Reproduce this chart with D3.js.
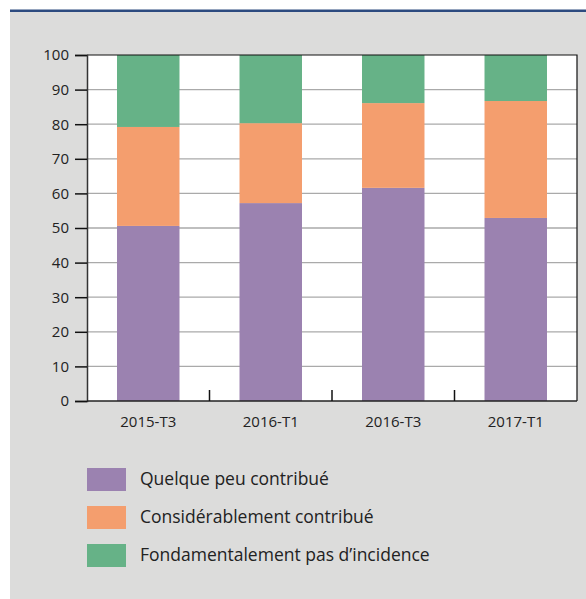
<!DOCTYPE html>
<html>
<head>
<meta charset="utf-8">
<script src="https://cdn.jsdelivr.net/npm/d3@7"></script>
<style>
  html, body { margin: 0; padding: 0; background: #ffffff; }
  svg { display: block; }
  text { font-family: "Open Sans", "Noto Sans", sans-serif; fill: #222; }
</style>
</head>
<body>
<svg id="chart" width="586" height="599"></svg>
<script>
// Survey periods
const periods = ["2015-T3", "2016-T1", "2016-T3", "2017-T1"];
// Share of respondents (%) per answer
const quelquePeu = [50.6, 57.2, 61.6, 52.9];
const considerablement = [28.6, 23.1, 24.5, 33.8];
const pasIncidence = [20.8, 19.7, 13.9, 13.3];
const seriesNames = ["Quelque peu contribué", "Considérablement contribué", "Fondamentalement pas d’incidence"];
const yTicks = [0, 10, 20, 30, 40, 50, 60, 70, 80, 90, 100];

const colors = ["#9b82b0", "#f49e6e", "#66b287"];

const rows = periods.map((p, i) => ({
  period: p,
  s0: quelquePeu[i],
  s1: considerablement[i],
  s2: pasIncidence[i]
}));

const svg = d3.select("#chart");

// Panel background and top rule
svg.append("rect").attr("x", 10).attr("y", 12).attr("width", 576).attr("height", 587).attr("fill", "#dcdcdb");
svg.append("rect").attr("x", 10).attr("y", 9.5).attr("width", 576).attr("height", 2.5).attr("fill", "#2c4a7f");

const plotLeft = 87, plotRight = 577, plotTop = 55, plotBottom = 401;

const x = d3.scaleBand().domain(periods).range([plotLeft, plotRight]).paddingInner(0.49).paddingOuter(0.245);
const xBand = d3.scaleBand().domain(periods).range([plotLeft, plotRight]);
const y = d3.scaleLinear().domain([0, 100]).range([plotBottom, plotTop]);

// Plot area
svg.append("rect").attr("x", plotLeft).attr("y", plotTop)
  .attr("width", plotRight - plotLeft).attr("height", plotBottom - plotTop).attr("fill", "#ffffff");

// Gridlines
svg.append("g").selectAll("line").data(yTicks.filter(t => t > 0 && t < 100)).join("line")
  .attr("x1", plotLeft).attr("x2", plotRight)
  .attr("y1", d => y(d)).attr("y2", d => y(d))
  .attr("stroke", "#aaaaaa").attr("stroke-width", 1.3);

// Stacked bars
const stack = d3.stack().keys(["s0", "s1", "s2"]);
const stacked = stack(rows);
svg.append("g").selectAll("g").data(stacked).join("g")
  .attr("fill", (d, i) => colors[i])
  .selectAll("rect").data(d => d).join("rect")
  .attr("x", d => x(d.data.period))
  .attr("width", x.bandwidth())
  .attr("y", d => y(d[1]))
  .attr("height", d => y(d[0]) - y(d[1]));

// Frame: top and right border
svg.append("path")
  .attr("d", `M${plotLeft},${plotTop}H${plotRight}V${plotBottom}`)
  .attr("fill", "none").attr("stroke", "#111").attr("stroke-width", 1.2);

// Y axis
const yAxis = d3.axisLeft(y).tickValues(yTicks).tickSize(12).tickPadding(6);
const yg = svg.append("g").attr("transform", `translate(${plotLeft},0)`).call(yAxis);
yg.select(".domain").attr("stroke", "#333").attr("stroke-width", 1.5);
yg.selectAll(".tick line").attr("stroke", "#111").attr("stroke-width", 1.5);
yg.selectAll("text").attr("font-size", 15).attr("fill", "#222").style("font-family", "'Open Sans', sans-serif");

// X axis with separators between categories
const xAxis = d3.axisBottom(xBand).tickSize(0).tickPadding(15);
const xg = svg.append("g").attr("transform", `translate(0,${plotBottom})`).call(xAxis);
xg.select(".domain").remove();
xg.selectAll("text").attr("font-size", 15).attr("fill", "#222").style("font-family", "'Open Sans', sans-serif");
svg.append("line").attr("x1", plotLeft).attr("x2", plotRight).attr("y1", plotBottom).attr("y2", plotBottom)
  .attr("stroke", "#222").attr("stroke-width", 1.5);
svg.append("g").selectAll("line").data(periods.slice(1)).join("line")
  .attr("x1", d => xBand(d)).attr("x2", d => xBand(d))
  .attr("y1", plotBottom).attr("y2", plotBottom - 11)
  .attr("stroke", "#111").attr("stroke-width", 1.5);

// Legend
const legend = svg.append("g").attr("transform", "translate(87,468)");
const items = legend.selectAll("g").data(seriesNames).join("g")
  .attr("transform", (d, i) => `translate(0,${i * 38})`);
items.append("rect").attr("width", 39).attr("height", 23).attr("fill", (d, i) => colors[i]);
items.append("text").attr("x", 53).attr("y", 11).attr("dy", "0.35em")
  .attr("font-size", 17.5).text(d => d);
</script>
</body>
</html>
